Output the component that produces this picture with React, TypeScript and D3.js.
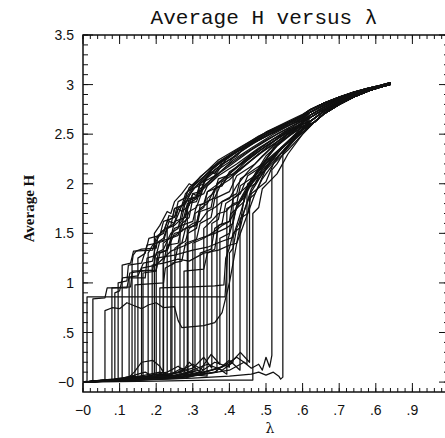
import React from "react";
import * as d3 from "d3";

type Pt = [number, number];

// ---- axis text ----
const titleText = "Average H versus λ";
const yTitle = "Average H";
const xTitle = "λ";
const xTickValues = [0, 0.1, 0.2, 0.3, 0.4, 0.5, 0.6, 0.7, 0.8, 0.9];
const xTickLabels = ["−0", ".1", ".2", ".3", ".4", ".5", ".6", ".7", ".6", ".9"];
const yTickValues = [0, 0.5, 1, 1.5, 2, 2.5, 3, 3.5];
const yTickLabels = ["−0", ".5", "1", "1.5", "2", "2.5", "3", "3.5"];

// ---- converged tails (λ, H) ----
const tailA: Pt[] = [[0.62, 2.745], [0.66, 2.815], [0.7, 2.875], [0.74, 2.925], [0.78, 2.965], [0.81, 2.99], [0.84, 3.02]];
const tailB: Pt[] = [[0.62, 2.72], [0.66, 2.795], [0.7, 2.86], [0.74, 2.915], [0.78, 2.96], [0.81, 2.985], [0.84, 3.015]];
const tailC: Pt[] = [[0.62, 2.69], [0.66, 2.775], [0.7, 2.845], [0.74, 2.905], [0.78, 2.955], [0.81, 2.985], [0.84, 3.012]];
const tailD: Pt[] = [[0.62, 2.665], [0.66, 2.755], [0.7, 2.83], [0.74, 2.895], [0.78, 2.948], [0.81, 2.98], [0.84, 3.01]];
const tailE: Pt[] = [[0.625, 2.64], [0.66, 2.735], [0.7, 2.815], [0.74, 2.885], [0.78, 2.94], [0.81, 2.975], [0.84, 3.005]];
const tailF: Pt[] = [[0.63, 2.615], [0.66, 2.71], [0.7, 2.8], [0.74, 2.875], [0.78, 2.935], [0.81, 2.972], [0.84, 3.002]];

// ---- individual runs (λ, average H) ----
const run01: Pt[] = [[0, 0], [0.011, 0.01], [0.011, 0.86], [0.15, 0.86], [0.3, 0.86], [0.388, 0.86], [0.392, 1.1], [0.397, 1.45], [0.41, 1.62], [0.42, 1.78], [0.44, 1.86], [0.46, 2.05], [0.49, 2.18], [0.52, 2.36], [0.56, 2.5], [0.6, 2.6], ...tailE];
const run02: Pt[] = [[0, 0], [0.027, 0.01], [0.027, 0.84], [0.06, 0.85], [0.066, 0.95], [0.12, 0.95], [0.128, 1.1], [0.16, 1.12], [0.2, 1.13], [0.21, 1.3], [0.23, 1.33], [0.25, 1.5], [0.27, 1.52], [0.29, 1.72], [0.31, 1.76], [0.33, 1.97], [0.36, 2.08], [0.39, 2.24], [0.44, 2.37], [0.5, 2.52], [0.56, 2.62], [0.6, 2.69], ...tailA];
const run03: Pt[] = [[0, 0], [0.03, 0.01], [0.06, 0.02], [0.06, 0.72], [0.08, 0.75], [0.1, 0.74], [0.12, 0.8], [0.14, 0.77], [0.16, 0.74], [0.18, 0.78], [0.2, 0.8], [0.22, 0.75], [0.25, 0.76], [0.26, 0.62], [0.27, 0.55], [0.3, 0.56], [0.33, 0.57], [0.36, 0.6], [0.38, 0.7], [0.4, 1.0], [0.42, 1.4], [0.44, 1.6], [0.47, 1.9], [0.5, 2.15], [0.54, 2.35], [0.58, 2.5], ...tailF];
const run04: Pt[] = [[0, 0], [0.04, 0.01], [0.079, 0.02], [0.079, 0.95], [0.13, 0.96], [0.135, 1.12], [0.19, 1.13], [0.2, 1.3], [0.22, 1.34], [0.24, 1.5], [0.26, 1.55], [0.27, 1.72], [0.29, 1.78], [0.3, 1.9], [0.32, 1.92], [0.34, 2.08], [0.38, 2.2], [0.42, 2.28], [0.44, 2.36], [0.5, 2.48], [0.56, 2.6], [0.6, 2.66], ...tailB];
const run05: Pt[] = [[0, 0], [0.05, 0.02], [0.087, 0.01], [0.087, 0.9], [0.1, 0.92], [0.108, 1.05], [0.15, 1.07], [0.165, 1.2], [0.19, 1.22], [0.2, 1.4], [0.22, 1.42], [0.23, 1.55], [0.25, 1.58], [0.27, 1.65], [0.28, 1.82], [0.31, 1.86], [0.32, 2.0], [0.36, 2.12], [0.4, 2.22], [0.42, 2.3], [0.48, 2.44], [0.55, 2.58], [0.6, 2.64], ...tailC];
const run06: Pt[] = [[0, 0], [0.05, 0.01], [0.096, 0.03], [0.096, 1.0], [0.12, 1.02], [0.124, 1.18], [0.16, 1.2], [0.175, 1.38], [0.2, 1.4], [0.22, 1.45], [0.235, 1.62], [0.25, 1.6], [0.27, 1.78], [0.28, 1.8], [0.3, 1.95], [0.33, 2.0], [0.35, 2.14], [0.4, 2.28], [0.46, 2.42], [0.52, 2.54], [0.57, 2.63], [0.6, 2.69], ...tailA];
const run07: Pt[] = [[0, 0], [0.06, 0.02], [0.107, 0.02], [0.107, 1.18], [0.13, 1.2], [0.138, 1.32], [0.19, 1.33], [0.2, 1.46], [0.22, 1.5], [0.235, 1.68], [0.25, 1.66], [0.26, 1.82], [0.28, 1.86], [0.29, 1.96], [0.33, 2.1], [0.37, 2.24], [0.43, 2.37], [0.5, 2.52], [0.56, 2.63], [0.6, 2.7], ...tailA];
const run08: Pt[] = [[0, 0], [0.07, 0.01], [0.1, 0.04], [0.134, 0.03], [0.134, 1.2], [0.137, 1.28], [0.145, 1.32], [0.16, 1.34], [0.2, 1.35], [0.205, 1.48], [0.22, 1.52], [0.23, 1.62], [0.245, 1.66], [0.25, 1.75], [0.27, 1.78], [0.28, 1.9], [0.3, 1.98], [0.34, 2.1], [0.38, 2.24], [0.45, 2.38], [0.52, 2.52], [0.57, 2.6], [0.6, 2.66], ...tailB];
const run09: Pt[] = [[0, 0], [0.06, 0.02], [0.1, 0.03], [0.126, 0.05], [0.126, 1.05], [0.17, 1.05], [0.175, 1.25], [0.2, 1.28], [0.21, 1.42], [0.24, 1.45], [0.25, 1.55], [0.27, 1.58], [0.285, 1.8], [0.31, 1.82], [0.32, 1.92], [0.35, 2.02], [0.37, 2.1], [0.4, 2.18], [0.46, 2.34], [0.53, 2.5], [0.58, 2.6], ...tailD];
const run10: Pt[] = [[0, 0], [0.08, 0.02], [0.12, 0.05], [0.142, 0.04], [0.142, 0.98], [0.22, 1.0], [0.225, 1.15], [0.25, 1.2], [0.26, 1.38], [0.28, 1.42], [0.29, 1.55], [0.31, 1.6], [0.32, 1.75], [0.34, 1.8], [0.36, 1.95], [0.38, 1.98], [0.4, 2.1], [0.45, 2.26], [0.5, 2.4], [0.56, 2.55], [0.6, 2.6], ...tailE];
const run11: Pt[] = [[0, 0], [0.08, 0.03], [0.12, 0.04], [0.15, 0.03], [0.15, 1.25], [0.17, 1.3], [0.18, 1.45], [0.21, 1.48], [0.22, 1.62], [0.25, 1.66], [0.26, 1.75], [0.27, 1.72], [0.285, 1.92], [0.32, 2.0], [0.36, 2.14], [0.41, 2.27], [0.47, 2.42], [0.54, 2.55], [0.6, 2.65], ...tailB];
const run12: Pt[] = [[0, 0], [0.09, 0.02], [0.13, 0.06], [0.164, 0.05], [0.164, 1.1], [0.2, 1.12], [0.205, 1.3], [0.23, 1.33], [0.24, 1.45], [0.26, 1.48], [0.27, 1.6], [0.29, 1.66], [0.3, 1.85], [0.33, 1.9], [0.34, 1.98], [0.37, 2.08], [0.42, 2.2], [0.48, 2.36], [0.55, 2.52], [0.6, 2.6], ...tailE];
const run13: Pt[] = [[0, 0], [0.1, 0.03], [0.14, 0.05], [0.178, 0.04], [0.178, 1.3], [0.19, 1.38], [0.2, 1.42], [0.215, 1.52], [0.24, 1.58], [0.25, 1.75], [0.27, 1.78], [0.28, 1.84], [0.3, 1.97], [0.33, 2.07], [0.37, 2.22], [0.42, 2.34], [0.48, 2.48], [0.55, 2.6], [0.6, 2.69], ...tailA];
const run14: Pt[] = [[0, 0], [0.1, 0.02], [0.15, 0.08], [0.17, 0.1], [0.189, 0.06], [0.189, 1.18], [0.22, 1.2], [0.23, 1.38], [0.26, 1.4], [0.27, 1.58], [0.3, 1.62], [0.31, 1.78], [0.33, 1.8], [0.34, 1.92], [0.37, 2.0], [0.41, 2.14], [0.46, 2.3], [0.52, 2.45], [0.58, 2.56], ...tailF];
const run15: Pt[] = [[0, 0], [0.1, 0.03], [0.16, 0.06], [0.21, 0.05], [0.21, 0.95], [0.3, 0.96], [0.36, 0.97], [0.385, 0.98], [0.39, 1.25], [0.4, 1.35], [0.41, 1.5], [0.43, 1.56], [0.44, 1.72], [0.46, 1.95], [0.5, 2.15], [0.54, 2.35], [0.58, 2.5], ...tailF];
const run16: Pt[] = [[0, 0], [0.12, 0.03], [0.14, 0.1], [0.16, 0.2], [0.19, 0.22], [0.21, 0.16], [0.219, 0.1], [0.219, 1.4], [0.24, 1.46], [0.25, 1.62], [0.28, 1.66], [0.29, 1.8], [0.31, 1.85], [0.32, 1.95], [0.35, 2.04], [0.39, 2.17], [0.44, 2.3], [0.5, 2.44], [0.56, 2.56], [0.6, 2.64], ...tailC];
const run17: Pt[] = [[0, 0], [0.12, 0.03], [0.18, 0.05], [0.23, 0.08], [0.23, 1.55], [0.25, 1.6], [0.26, 1.75], [0.28, 1.8], [0.29, 1.88], [0.31, 1.98], [0.34, 2.1], [0.38, 2.23], [0.43, 2.35], [0.49, 2.48], [0.55, 2.59], [0.6, 2.67], ...tailA];
const run18: Pt[] = [[0, 0], [0.1, 0.02], [0.17, 0.07], [0.21, 0.1], [0.243, 0.07], [0.243, 1.2], [0.27, 1.22], [0.28, 1.4], [0.31, 1.44], [0.32, 1.6], [0.35, 1.66], [0.36, 1.85], [0.4, 1.92], [0.42, 2.08], [0.47, 2.2], [0.52, 2.38], [0.57, 2.5], [0.6, 2.57], ...tailE];
const run19: Pt[] = [[0, 0], [0.12, 0.03], [0.2, 0.05], [0.251, 0.09], [0.251, 1.35], [0.27, 1.4], [0.28, 1.55], [0.31, 1.58], [0.32, 1.78], [0.36, 1.86], [0.38, 2.02], [0.43, 2.14], [0.48, 2.3], [0.53, 2.42], [0.58, 2.55], ...tailF];
const run20: Pt[] = [[0, 0], [0.14, 0.03], [0.2, 0.08], [0.265, 0.06], [0.265, 1.6], [0.28, 1.68], [0.29, 1.85], [0.32, 1.88], [0.33, 2.02], [0.37, 2.1], [0.41, 2.24], [0.46, 2.36], [0.52, 2.5], [0.57, 2.6], [0.6, 2.66], ...tailB];
const run21: Pt[] = [[0, 0], [0.15, 0.04], [0.22, 0.07], [0.276, 0.05], [0.276, 1.12], [0.33, 1.14], [0.34, 1.3], [0.36, 1.34], [0.37, 1.58], [0.4, 1.62], [0.41, 1.85], [0.45, 1.98], [0.49, 2.18], [0.54, 2.35], [0.59, 2.52], ...tailF];
const run22: Pt[] = [[0, 0], [0.15, 0.04], [0.23, 0.1], [0.26, 0.16], [0.287, 0.08], [0.287, 1.5], [0.31, 1.55], [0.32, 1.72], [0.35, 1.76], [0.36, 1.95], [0.4, 2.04], [0.44, 2.18], [0.49, 2.32], [0.54, 2.45], [0.59, 2.58], ...tailD];
const run23: Pt[] = [[0, 0], [0.16, 0.03], [0.25, 0.06], [0.306, 0.11], [0.306, 1.7], [0.33, 1.76], [0.34, 1.92], [0.38, 1.98], [0.4, 2.12], [0.45, 2.24], [0.5, 2.38], [0.55, 2.5], [0.6, 2.62], ...tailC];
const run24: Pt[] = [[0, 0], [0.18, 0.04], [0.27, 0.1], [0.29, 0.2], [0.32, 0.1], [0.32, 1.3], [0.35, 1.34], [0.36, 1.55], [0.38, 1.6], [0.39, 1.8], [0.43, 1.9], [0.45, 2.08], [0.5, 2.2], [0.55, 2.38], [0.6, 2.52], ...tailF];
const run25: Pt[] = [[0, 0], [0.2, 0.03], [0.28, 0.08], [0.339, 0.06], [0.339, 1.85], [0.36, 1.92], [0.37, 2.05], [0.41, 2.1], [0.45, 2.24], [0.5, 2.38], [0.55, 2.5], [0.6, 2.62], ...tailD];
const run26: Pt[] = [[0, 0], [0.2, 0.04], [0.3, 0.14], [0.33, 0.25], [0.352, 0.14], [0.352, 1.6], [0.37, 1.64], [0.38, 1.82], [0.42, 1.9], [0.43, 2.05], [0.49, 2.2], [0.54, 2.36], [0.6, 2.55], ...tailF];
const run27: Pt[] = [[0, 0], [0.22, 0.04], [0.3, 0.07], [0.366, 0.1], [0.366, 2.0], [0.39, 2.07], [0.42, 2.16], [0.46, 2.28], [0.51, 2.4], [0.56, 2.52], [0.6, 2.62], ...tailC];
const run28: Pt[] = [[0, 0], [0.22, 0.05], [0.32, 0.12], [0.35, 0.28], [0.374, 0.18], [0.374, 1.45], [0.4, 1.5], [0.405, 1.7], [0.44, 1.82], [0.45, 2.0], [0.5, 2.14], [0.54, 2.3], [0.58, 2.45], [0.6, 2.52], ...tailF];
const run29: Pt[] = [[0, 0], [0.24, 0.04], [0.33, 0.1], [0.37, 0.14], [0.393, 0.08], [0.393, 1.75], [0.42, 1.8], [0.43, 1.98], [0.47, 2.08], [0.51, 2.25], [0.55, 2.38], [0.6, 2.55], ...tailE];
const run30: Pt[] = [[0, 0], [0.25, 0.05], [0.34, 0.18], [0.38, 0.12], [0.41, 0.2], [0.41, 2.1], [0.44, 2.18], [0.48, 2.3], [0.52, 2.42], [0.56, 2.54], [0.6, 2.64], ...tailB];
const run31: Pt[] = [[0, 0], [0.26, 0.04], [0.36, 0.1], [0.4, 0.22], [0.429, 0.12], [0.429, 1.65], [0.45, 1.7], [0.46, 1.9], [0.5, 2.02], [0.52, 2.2], [0.56, 2.34], [0.6, 2.5], ...tailF];
const run32: Pt[] = [[0, 0], [0.28, 0.04], [0.38, 0.15], [0.42, 0.25], [0.448, 0.18], [0.448, 1.95], [0.47, 2.0], [0.49, 2.15], [0.53, 2.27], [0.57, 2.42], [0.6, 2.54], ...tailE];
const run33: Pt[] = [[0, 0], [0.2, 0.01], [0.35, 0.02], [0.464, 0.02], [0.464, 1.7], [0.48, 1.76], [0.49, 1.95], [0.53, 2.1], [0.56, 2.3], [0.6, 2.5], ...tailF];
const run34: Pt[] = [[0, 0], [0.3, 0.06], [0.4, 0.12], [0.44, 0.2], [0.46, 0.14], [0.48, 0.18], [0.49, 0.12], [0.5, 0.25], [0.51, 0.15], [0.516, 0.27], [0.516, 2.14], [0.53, 2.2], [0.55, 2.32], [0.58, 2.45], [0.6, 2.52], ...tailF];
const run35: Pt[] = [[0, 0], [0.3, 0.04], [0.4, 0.06], [0.46, 0.08], [0.48, 0.1], [0.5, 0.07], [0.52, 0.1], [0.535, 0.06], [0.54, 0.03], [0.546, 0.05], [0.546, 2.31], [0.56, 2.38], [0.58, 2.48], [0.6, 2.55], ...tailF];
const run36: Pt[] = [[0, 0], [0.1, 0.02], [0.16, 0.05], [0.2, 0.04], [0.2, 1.25], [0.25, 1.28], [0.3, 1.33], [0.34, 1.36], [0.38, 1.42], [0.41, 1.46], [0.43, 1.7], [0.45, 1.95], [0.47, 2.1], [0.5, 2.28], [0.54, 2.42], [0.58, 2.54], [0.6, 2.6], ...tailE];
const run37: Pt[] = [[0, 0], [0.12, 0.02], [0.18, 0.06], [0.22, 0.05], [0.22, 1.2], [0.26, 1.24], [0.29, 1.22], [0.33, 1.3], [0.37, 1.33], [0.4, 1.38], [0.42, 1.4], [0.43, 1.6], [0.44, 1.85], [0.46, 2.0], [0.49, 2.2], [0.53, 2.38], [0.57, 2.5], [0.6, 2.58], ...tailF];
const run38: Pt[] = [[0, 0], [0.08, 0.02], [0.13, 0.04], [0.16, 0.03], [0.16, 1.15], [0.2, 1.18], [0.24, 1.32], [0.28, 1.38], [0.32, 1.45], [0.36, 1.5], [0.39, 1.55], [0.41, 1.6], [0.42, 1.78], [0.45, 1.98], [0.48, 2.15], [0.52, 2.35], [0.56, 2.48], [0.6, 2.6], ...tailE];
const run39: Pt[] = [[0, 0], [0.15, 0.03], [0.24, 0.08], [0.27, 0.14], [0.3, 0.09], [0.3, 1.4], [0.33, 1.45], [0.36, 1.52], [0.38, 1.58], [0.4, 1.62], [0.42, 1.75], [0.44, 1.9], [0.47, 2.05], [0.5, 2.2], [0.54, 2.36], [0.58, 2.5], [0.6, 2.58], ...tailF];
const run40: Pt[] = [[0, 0], [0.12, 0.02], [0.2, 0.06], [0.24, 0.04], [0.24, 1.45], [0.26, 1.5], [0.28, 1.55], [0.3, 1.6], [0.32, 1.62], [0.34, 1.72], [0.36, 1.76], [0.38, 1.82], [0.4, 1.85], [0.42, 1.98], [0.45, 2.12], [0.49, 2.28], [0.53, 2.42], [0.57, 2.54], [0.6, 2.62], ...tailD];
const run41: Pt[] = [[0, 0], [0.18, 0.04], [0.26, 0.1], [0.3, 0.18], [0.33, 0.12], [0.33, 1.55], [0.35, 1.62], [0.37, 1.7], [0.39, 1.72], [0.41, 1.8], [0.43, 1.82], [0.45, 1.95], [0.48, 2.08], [0.51, 2.22], [0.55, 2.38], [0.6, 2.56], ...tailE];
const run42: Pt[] = [[0, 0], [0.14, 0.03], [0.22, 0.06], [0.285, 0.05], [0.285, 1.75], [0.3, 1.9], [0.31, 1.88], [0.32, 2.0], [0.35, 2.12], [0.36, 2.1], [0.38, 2.22], [0.41, 2.3], [0.45, 2.38], [0.5, 2.5], [0.55, 2.6], [0.6, 2.68], ...tailA];
const run43: Pt[] = [[0, 0], [0.1, 0.02], [0.16, 0.04], [0.195, 0.06], [0.195, 1.5], [0.21, 1.58], [0.23, 1.72], [0.24, 1.7], [0.25, 1.82], [0.27, 1.9], [0.29, 2.0], [0.3, 1.98], [0.32, 2.07], [0.35, 2.16], [0.39, 2.26], [0.44, 2.37], [0.5, 2.5], [0.56, 2.61], [0.6, 2.68], ...tailB];
const run44: Pt[] = [[0, 0], [0.25, 0.04], [0.35, 0.12], [0.4, 0.18], [0.43, 0.3], [0.455, 0.2], [0.455, 1.85], [0.47, 1.9], [0.49, 2.05], [0.52, 2.2], [0.55, 2.35], [0.58, 2.47], [0.6, 2.55], ...tailD];
const run45: Pt[] = [[0, 0], [0.22, 0.04], [0.32, 0.1], [0.36, 0.2], [0.4, 0.15], [0.4, 1.3], [0.41, 1.35], [0.42, 1.55], [0.44, 1.72], [0.46, 1.92], [0.49, 2.1], [0.52, 2.28], [0.56, 2.42], [0.6, 2.55], ...tailC];

const runs: Pt[][] = [
  run01, run02, run03, run04, run05, run06, run07, run08, run09, run10,
  run11, run12, run13, run14, run15, run16, run17, run18, run19, run20,
  run21, run22, run23, run24, run25, run26, run27, run28, run29, run30,
  run31, run32, run33, run34, run35, run36, run37, run38, run39, run40,
  run41, run42, run43, run44, run45,
];

const W = 445;
const H = 438;

export default function App() {
  const x = d3.scaleLinear().domain([0, 1]).range([83, 449]);
  const y = d3.scaleLinear().domain([-0.1, 3.5]).range([392, 35]);
  const line = d3.line<Pt>().x((d) => x(d[0])).y((d) => y(d[1]));

  const xMinor = x.ticks(50);
  const xMajor = x.ticks(10);
  const yMinor = y.ticks(36).filter((v) => v >= -0.05);
  const yMajor = y.ticks(7);

  const [x0, x1] = x.range();
  const [y0, y1] = y.range();
  const sans = "'Liberation Sans', Arial, sans-serif";
  const mono = "'Liberation Mono', 'Courier New', monospace";

  return (
    <svg
      width={W}
      height={H}
      style={{ position: "absolute", left: 0, top: 0, background: "#fff" }}
    >
      <rect x={0} y={0} width={W} height={H} fill="#fff" />
      {/* data */}
      <g fill="none" stroke="#111" strokeWidth={1.25} strokeLinejoin="round">
        {runs.map((r, i) => (
          <path key={i} d={line(r) || ""} />
        ))}
      </g>
      {/* frame */}
      <rect x={x0} y={y1} width={x1 - x0} height={y0 - y1} fill="none" stroke="#111" strokeWidth={1.5} />
      {/* ticks */}
      <g stroke="#111" strokeWidth={1}>
        {xMinor.map((v, i) => (
          <g key={"xm" + i}>
            <line x1={x(v)} x2={x(v)} y1={y0} y2={y0 - 4} />
            <line x1={x(v)} x2={x(v)} y1={y1} y2={y1 + 4} />
          </g>
        ))}
        {xMajor.map((v, i) => (
          <g key={"xM" + i}>
            <line x1={x(v)} x2={x(v)} y1={y0} y2={y0 - 9} />
            <line x1={x(v)} x2={x(v)} y1={y1} y2={y1 + 9} />
          </g>
        ))}
        {yMinor.map((v, i) => (
          <g key={"ym" + i}>
            <line x1={x0} x2={x0 + 5} y1={y(v)} y2={y(v)} />
            <line x1={x1} x2={x1 - 5} y1={y(v)} y2={y(v)} />
          </g>
        ))}
        {yMajor.map((v, i) => (
          <g key={"yM" + i}>
            <line x1={x0} x2={x0 + 10} y1={y(v)} y2={y(v)} />
            <line x1={x1} x2={x1 - 10} y1={y(v)} y2={y(v)} />
          </g>
        ))}
      </g>
      {/* tick labels */}
      <g fontFamily={sans} fontSize={14} fill="#111">
        {xTickValues.map((v, i) => (
          <text key={"xl" + i} x={x(v)} y={415} textAnchor="middle">
            {xTickLabels[i]}
          </text>
        ))}
        {yTickValues.map((v, i) => (
          <text key={"yl" + i} x={x0 - 9} y={y(v) + 5} textAnchor="end">
            {yTickLabels[i]}
          </text>
        ))}
      </g>
      {/* titles */}
      <text x={(x0 + x1) / 2 - 2} y={24} textAnchor="middle" fontFamily={mono} fontSize={21} fill="#111">
        {titleText}
      </text>
      <text x={(x0 + x1) / 2 + 4} y={433} textAnchor="middle" fontFamily="'DejaVu Serif', serif" fontSize={14} fill="#111">
        {xTitle}
      </text>
      <text
        transform={`translate(34, ${y(1.75)}) rotate(-90)`}
        textAnchor="middle"
        fontFamily="'Liberation Serif', 'Times New Roman', serif"
        fontWeight="bold"
        fontSize={15}
        fill="#111"
      >
        {yTitle}
      </text>
    </svg>
  );
}
